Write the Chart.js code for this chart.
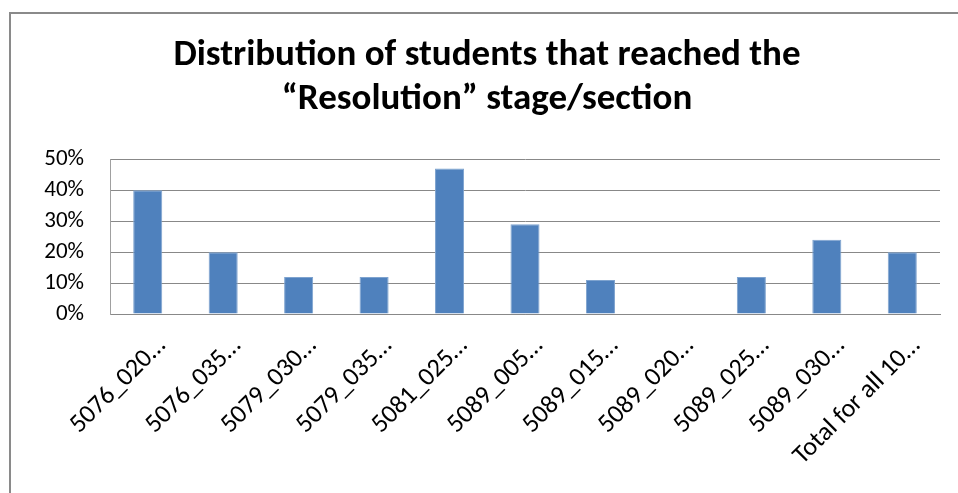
<!DOCTYPE html>
<html>
<head>
<meta charset="utf-8">
<script src="https://cdn.jsdelivr.net/npm/chart.js@4/dist/chart.umd.min.js"></script>
<style>
  html, body { margin: 0; padding: 0; background: #fff; overflow: hidden; }
  #frame { position: absolute; left: 9px; top: 12px; width: 990px; height: 520px; border: 2px solid #8a8a8a; }
  #wrap { position: absolute; left: 0; top: 0; width: 958px; height: 493px; }
</style>
</head>
<body>
<div id="frame"></div>
<div id="wrap"><canvas id="resChart" width="958" height="493"></canvas></div>
<script>
// sections and share of students reaching "Resolution" (%)
const sections = ['5076_020…', '5076_035…', '5079_030…', '5079_035…', '5081_025…',
  '5089_005…', '5089_015…', '5089_020…', '5089_025…', '5089_030…', 'Total for all 10…'];
const reachedPct = [40, 20, 12, 12, 47, 29, 11, 0, 12, 24, 20];
const yTicks = [0, 10, 20, 30, 40, 50];

const font = 'Carlito, Calibri, Lato, sans-serif';

const ctx = document.getElementById('resChart').getContext('2d');
new Chart(ctx, {
  type: 'bar',
  data: {
    labels: sections,
    datasets: [{
      data: reachedPct,
      backgroundColor: '#4f81bd',
      borderColor: '#7ea3cf',
      borderWidth: 1,
      categoryPercentage: 1,
      barPercentage: 0.385
    }]
  },
  options: {
    responsive: false,
    animation: false,
    layout: { padding: { left: 34, right: 18, top: 0, bottom: 0 } },
    plugins: {
      legend: { display: false },
      tooltip: { enabled: false },
      title: {
        display: true,
        text: ['Distribution of students that reached the', '\u201CResolution\u201D stage/section'],
        color: '#000',
        font: { family: font, size: 37, weight: 'bold', lineHeight: 1.18 },
        padding: { top: 34, bottom: 38 }
      }
    },
    scales: {
      x: {
        grid: { display: false },
        border: { display: true, color: '#888888', width: 1 },
        ticks: {
          autoSkip: false,
          maxRotation: 45,
          minRotation: 45,
          color: '#000',
          padding: 9,
          labelOffset: 14,
          font: { family: font, size: 26 }
        },
        afterFit: (scale) => { scale.height = 179; }
      },
      y: {
        min: 0,
        max: 50,
        afterBuildTicks: (scale) => { scale.ticks = yTicks.map(v => ({ value: v })); },
        grid: { color: '#888888', lineWidth: 1, drawTicks: false },
        border: { display: true, color: '#a0a0a0', width: 1 },
        ticks: {
          color: '#000',
          padding: 26,
          font: { family: font, size: 23 },
          callback: (v) => v + '%'
        },
        afterFit: (scale) => { scale.width = 76; }
      }
    }
  }
});
</script>
</body>
</html>
